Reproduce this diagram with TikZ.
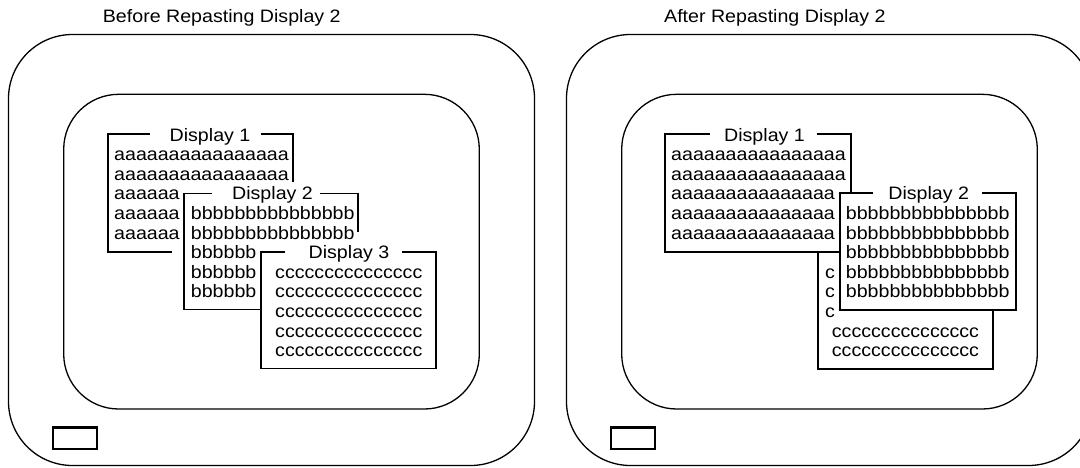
\documentclass[tikz,border=0pt]{standalone}
\usepackage{fontspec}
\setmainfont[FakeStretch=1.09]{Liberation Sans}
\tikzset{
  screen/.style={draw, line width=1.3pt, rounded corners=64pt},
  glass/.style={draw, line width=1.3pt, rounded corners=55pt},
  knob/.style={draw, line width=2.2pt},
  border/.style={line width=1.8pt},
  row/.style={anchor=base west, inner sep=0pt, font=\fontsize{18}{19.6}\selectfont},
  tag/.style={anchor=base, inner sep=0pt, font=\fontsize{18}{19.6}\selectfont},
  heading/.style={anchor=base west, inner sep=0pt, font=\fontsize{18}{19.6}\selectfont}
}
\begin{document}
\begin{tikzpicture}[x=1pt, y=-1pt]
    \useasboundingbox (0,0) rectangle (1080,467);
    \clip (0,0) rectangle (1080,467);

    % headings
    \node[heading] (before) at (102.7,22.3) {Before Repasting Display 2};
    \node[heading] (after) at (664,22.3) {After Repasting Display 2};

    % left screen
    \draw[screen] (8.5,34.5) rectangle (534.5,465.5);
    \draw[glass] (63.7,94.3) rectangle (479.3,409);
    \draw[knob] (53,427.5) rectangle (97,449);

    % left: display 1, partly hidden
    \draw[border] (172,252) -- (107.7,252) -- (107.7,134) -- (150,134);
    \draw[border] (260.7,134) -- (292.7,134) -- (292.7,181.7);
    \node[tag] (lt1) at (210,141) {Display 1};
    \foreach \txt [count=\i] in {aaaaaaaaaaaaaaaa, aaaaaaaaaaaaaaaa, aaaaaa, aaaaaa, aaaaaa}
        \node[row] (la\i) at (114, 141+19.6*\i) {\txt};

    % left: display 2, partly hidden
    \draw[border] (260.7,309.5) -- (184,309.5) -- (184,193.5) -- (211.7,193.5);
    \draw[border] (320,193.5) -- (358.3,193.5) -- (358.3,231.7);
    \node[tag] (lt2) at (272.5,199.8) {Display 2};
    \foreach \txt [count=\i] in {bbbbbbbbbbbbbbb, bbbbbbbbbbbbbbb, bbbbbb, bbbbbb, bbbbbb}
        \node[row] (lb\i) at (190.7, 199.8+19.6*\i) {\txt};

    % left: display 3 on top
    \draw[border] (285,252.3) -- (260.7,252.3) -- (260.7,368.5) -- (435.7,368.5)
        -- (435.7,252.3) -- (401.7,252.3);
    \node[tag] (lt3) at (349,258.6) {Display 3};
    \foreach \i in {1,...,5}
        \node[row] (lc\i) at (275, 258.6+19.6*\i) {ccccccccccccccc};

    % right screen
    \draw[screen] (566.5,34.5) rectangle (1092.5,465.5);
    \draw[glass] (621.7,94.3) rectangle (1037.3,409);
    \draw[knob] (611,427.5) rectangle (655,449);

    % right: display 1
    \draw[border] (840,252.3) -- (665,252.3) -- (665,134) -- (710,134);
    \draw[border] (816.7,134) -- (851,134) -- (851,193.3);
    \node[tag] (rt1) at (764.5,141) {Display 1};
    \foreach \txt [count=\i] in {aaaaaaaaaaaaaaaa, aaaaaaaaaaaaaaaa, aaaaaaaaaaaaaaa,
                                 aaaaaaaaaaaaaaa, aaaaaaaaaaaaaaa}
        \node[row] (ra\i) at (671, 141+19.6*\i) {\txt};

    % right: display 3, now underneath
    \draw[border] (818.3,252.3) -- (818.3,369) -- (993.3,369) -- (993.3,310);
    \foreach \i in {1,2,3}
        \node[row] (rc\i) at (825, 258.6+19.6*\i) {c};
    \foreach \i in {4,5}
        \node[row] (rc\i) at (831.7, 258.6+19.6*\i) {ccccccccccccccc};

    % right: display 2, repasted on top
    \draw[border] (872.7,193.3) -- (840,193.3) -- (840,310) -- (1016,310)
        -- (1016,193.3) -- (981.7,193.3);
    \node[tag] (rt2) at (928.7,199.8) {Display 2};
    \foreach \i in {1,...,5}
        \node[row] (rb\i) at (845.7, 199.8+19.6*\i) {bbbbbbbbbbbbbbb};

\end{tikzpicture}
\end{document}
